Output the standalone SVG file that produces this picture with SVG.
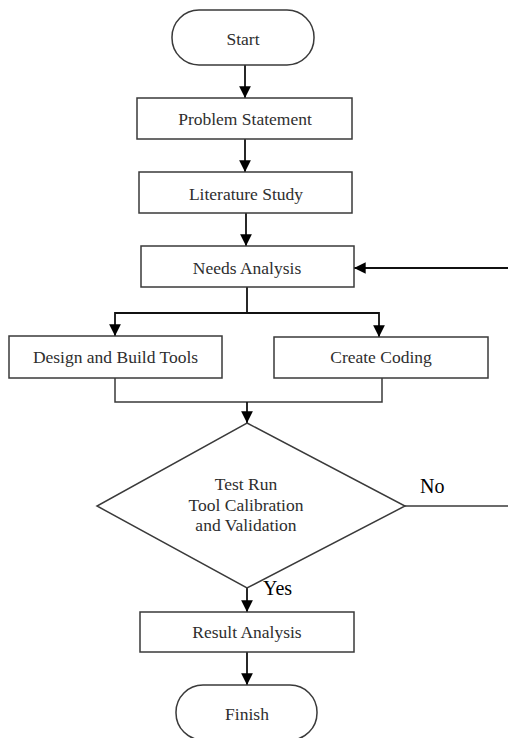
<svg xmlns="http://www.w3.org/2000/svg" width="508" height="738" viewBox="0 0 508 738">
<defs>
<style>
.box{fill:#fff;stroke:#3a3a3a;stroke-width:1.5}
.t{font-family:"Liberation Serif","Times New Roman",serif;font-size:17.5px;fill:#2e2e2e;text-anchor:middle}
.lbl{font-family:"Liberation Serif","Times New Roman",serif;font-size:20px;fill:#000}
.c{fill:none;stroke:#111;stroke-width:1.8}
.l{fill:none;stroke:#3a3a3a;stroke-width:1.5}
</style>
<marker id="ah" viewBox="0 0 10 10" refX="10" refY="5" markerWidth="6.5" markerHeight="6.5" orient="auto" markerUnits="strokeWidth">
<path d="M0,0 L10,5 L0,10 Z" fill="#000"/>
</marker>
</defs>
<rect width="508" height="738" fill="#fff"/>
<g id="connectors">
<line class="c" x1="245" y1="65" x2="245" y2="98" marker-end="url(#ah)"/>
<line class="c" x1="245" y1="139" x2="245" y2="172" marker-end="url(#ah)"/>
<line class="c" x1="246" y1="213" x2="246" y2="246" marker-end="url(#ah)"/>
<line class="c" x1="508" y1="268" x2="354" y2="268" marker-end="url(#ah)"/>
<polyline class="c" points="247,287 247,313"/>
<polyline class="c" points="247,313 115,313 115,336" marker-end="url(#ah)"/>
<polyline class="c" points="247,313 379,313 379,337" marker-end="url(#ah)"/>
<polyline class="l" points="115,378 115,402 382,402 382,378"/>
<line class="c" x1="247" y1="402" x2="247" y2="423" marker-end="url(#ah)"/>
<line class="l" x1="405" y1="506" x2="508" y2="506"/>
<line class="c" x1="247" y1="588" x2="247" y2="612" marker-end="url(#ah)"/>
<line class="c" x1="247" y1="652" x2="247" y2="685" marker-end="url(#ah)"/>
</g>
<g id="start">
<rect class="box" x="172" y="10" width="142" height="55" rx="27" ry="27"/>
<text class="t" x="243" y="45">Start</text>
</g>
<g id="problem">
<rect class="box" x="137" y="98" width="215" height="41"/>
<text class="t" x="245" y="125">Problem Statement</text>
</g>
<g id="literature">
<rect class="box" x="139" y="172" width="213" height="41"/>
<text class="t" x="246" y="200">Literature Study</text>
</g>
<g id="needs">
<rect class="box" x="141" y="246" width="213" height="41"/>
<text class="t" x="247" y="274">Needs Analysis</text>
</g>
<g id="design">
<rect class="box" x="9" y="336" width="213" height="42"/>
<text class="t" x="115.5" y="363">Design and Build Tools</text>
</g>
<g id="coding">
<rect class="box" x="274" y="337" width="214" height="41"/>
<text class="t" x="381" y="363">Create Coding</text>
</g>
<g id="decision">
<polygon class="box" points="247,423 405,506 247,588 97,506"/>
<text class="t" x="246" y="490">Test Run</text>
<text class="t" x="246" y="511">Tool Calibration</text>
<text class="t" x="246" y="531">and Validation</text>
</g>
<g id="labels">
<text class="lbl" x="420" y="493">No</text>
<text class="lbl" x="263" y="595">Yes</text>
</g>
<g id="result">
<rect class="box" x="140" y="612" width="214" height="40"/>
<text class="t" x="247" y="638">Result Analysis</text>
</g>
<g id="finish">
<rect class="box" x="176" y="685" width="141" height="55" rx="27" ry="27"/>
<text class="t" x="247" y="720">Finish</text>
</g>
</svg>
